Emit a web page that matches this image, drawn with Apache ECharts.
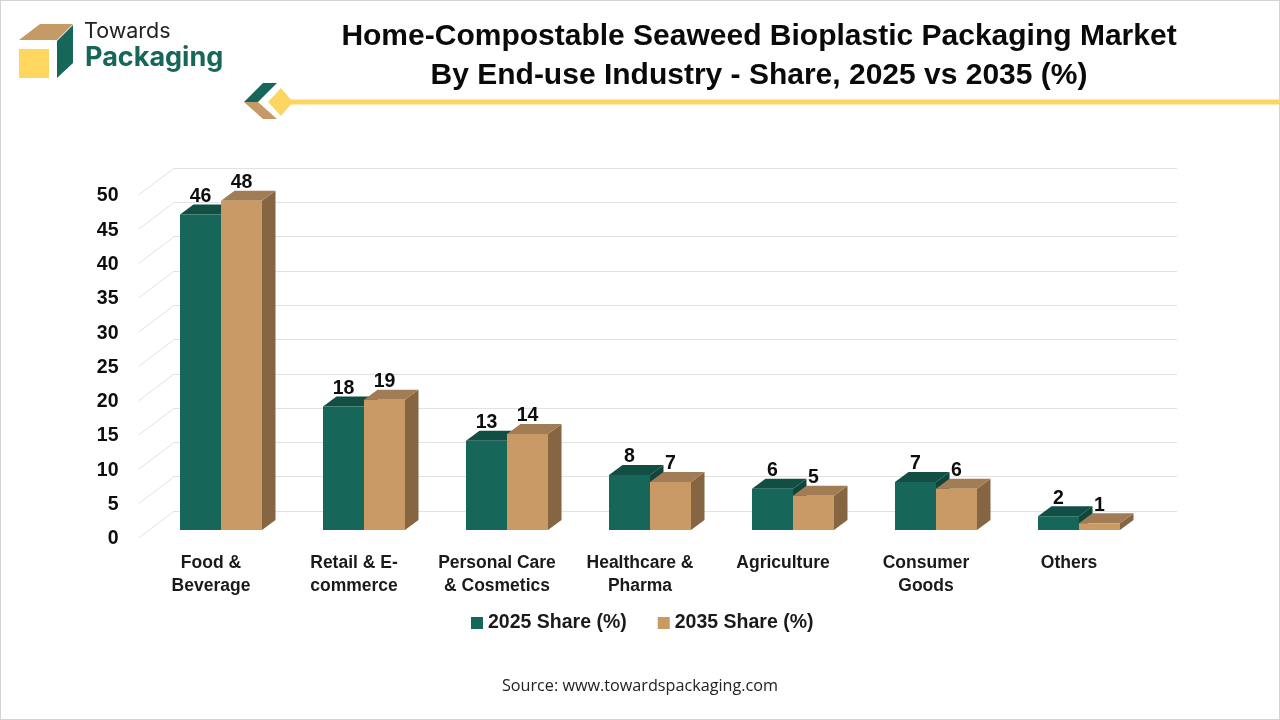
<!DOCTYPE html>
<html><head><meta charset="utf-8">
<style>html,body{margin:0;padding:0;background:#fff}#c{width:1280px;height:720px}</style>
<script src="https://cdn.jsdelivr.net/npm/echarts@6/dist/echarts.min.js"></script>
</head><body><div id="c"></div>
<script>
const categories = ['Food &\nBeverage','Retail & E-\ncommerce','Personal Care\n& Cosmetics','Healthcare &\nPharma','Agriculture','Consumer\nGoods','Others'];
const share2025 = [46,18,13,8,6,7,2];
const share2035 = [48,19,14,7,5,6,1];
const axisTicks = [0,5,10,15,20,25,30,35,40,45,50];
const FONT = '"Liberation Sans", Arial, sans-serif';
const GREEN = {front:'#16665a', top:'#114e43', side:'#0f463c'};
const TAN = {front:'#c99a66', top:'#a27c54', side:'#866543'};
const DX = 13.5, DY = -10, BAR = 41;

function bar3d(values, pal, dir){
  return function(params, api){
    const i = api.value(0), v = api.value(1);
    const top = api.coord([i, v]), base = api.coord([i, 0]);
    const x0 = dir < 0 ? top[0] - BAR : top[0], x1 = x0 + BAR;
    const poly = (pts, fill) => ({type:'polygon', shape:{points:pts}, style:{fill}});
    return {type:'group', children:[
      poly([[x1,top[1]],[x1+DX,top[1]+DY],[x1+DX,base[1]+DY],[x1,base[1]]], pal.side),
      poly([[x0,top[1]],[x0+DX,top[1]+DY],[x1+DX,top[1]+DY],[x1,top[1]]], pal.top),
      {type:'rect', shape:{x:x0,y:top[1],width:BAR,height:base[1]-top[1]}, style:{fill:pal.front}},
      {type:'text', z2:50, style:{text:String(v), x:(x0+x1)/2, y:top[1]-18, textAlign:'center', textVerticalAlign:'middle', font:'bold 19.5px '+FONT, fill:'#0d0d0d'}}
    ]};
  };
}
const chart = echarts.init(document.getElementById('c'), null, {renderer:'canvas', width:1280, height:720});
chart.setOption({
  animation:false,
  backgroundColor:'#fff',
  title:{text:'Home-Compostable Seaweed Bioplastic Packaging Market\nBy End-use Industry - Share, 2025 vs 2035 (%)',
    left:754, top:12, textAlign:'center',
    textStyle:{fontFamily:FONT, fontWeight:'bold', fontSize:30, lineHeight:39, color:'#0a0a0a'}},
  legend:{left:466, top:608, itemWidth:12, itemHeight:12, itemGap:31, icon:'rect',
    data:['2025 Share (%)','2035 Share (%)'],
    textStyle:{fontFamily:FONT, fontWeight:'bold', fontSize:19.5, color:'#1a1a1a'}, itemStyle:{borderWidth:0}},
  grid:[
    {left:149.5, width:1001, top:187, height:343},
    {left:173, width:1004, top:168, height:343},
    {left:139.5, width:1001, top:196, height:343}
  ],
  xAxis:[
    {gridIndex:0, type:'category', data:categories, show:false},
    {gridIndex:1, type:'value', show:false, min:0, max:1},
    {gridIndex:2, type:'category', data:categories, axisLine:{show:false}, axisTick:{show:false}, splitLine:{show:false},
      axisLabel:{margin:13, interval:0, fontFamily:FONT, fontWeight:'bold', fontSize:17.5, lineHeight:23, color:'#1a1a1a', verticalAlign:'top'}}
  ],
  yAxis:[
    {gridIndex:0, type:'value', min:0, max:50, interval:5, show:false},
    {gridIndex:1, type:'value', min:0, max:50, interval:5, axisLine:{show:false}, axisTick:{show:false}, axisLabel:{show:false},
      splitLine:{show:true, lineStyle:{color:'#e2e2e2', width:1}}},
    {gridIndex:2, type:'value', min:0, max:50, interval:5, splitLine:{show:false}, axisLine:{show:false}, axisTick:{show:false},
      axisLabel:{margin:21, fontFamily:FONT, fontWeight:'bold', fontSize:19.5, color:'#0d0d0d', formatter:v=>String(v)}}
  ],
  series:[
    {name:'wall', type:'custom', xAxisIndex:2, yAxisIndex:2, z:1, silent:true,
      data:axisTicks.map(t=>[0,t]),
      renderItem:function(params, api){
        const x = params.coordSys.x - 1, y = api.coord([0, api.value(1)])[1] - 1;
        return {type:'line', shape:{x1:x,y1:y,x2:x+34.5,y2:y-26}, style:{stroke:'#e2e2e2', lineWidth:1}};
      }},
    {name:'2025 Share (%)', type:'custom', xAxisIndex:0, yAxisIndex:0, z:3, itemStyle:{color:GREEN.front},
      data:share2025.map((v,i)=>[i,v]), renderItem:bar3d(share2025, GREEN, -1)},
    {name:'2035 Share (%)', type:'custom', xAxisIndex:0, yAxisIndex:0, z:4, itemStyle:{color:TAN.front},
      data:share2035.map((v,i)=>[i,v]), renderItem:bar3d(share2035, TAN, 1)}
  ],
  graphic:[
    {type:'rect', silent:true, shape:{x:0,y:0,width:1280,height:720}, style:{fill:'none', stroke:'#d4d4d4', lineWidth:2}},
    {type:'polygon', shape:{points:[[19,40],[40,24],[73,24],[57,40]]}, style:{fill:'#c69a66'}},
    {type:'polygon', shape:{points:[[57,41],[73,25],[73,63],[57,78]]}, style:{fill:'#16665a'}},
    {type:'rect', shape:{x:19,y:49,width:30,height:29}, style:{fill:'#ffd75e'}},
    {type:'text', style:{text:'Towards', x:84, y:32, textVerticalAlign:'middle', font:'400 21.5px Inter, sans-serif', fill:'#222'}},
    {type:'text', style:{text:'Packaging', x:85, y:58, textVerticalAlign:'middle', font:'700 27px Inter, sans-serif', fill:'#16665a'}},
    {type:'rect', shape:{x:285,y:99.5,width:995,height:5}, style:{fill:'#fbd663'}},
    {type:'polygon', shape:{points:[[244,102],[263,83],[277,83],[258,102]]}, style:{fill:'#16665a'}},
    {type:'polygon', shape:{points:[[244,102],[258,102],[277,119],[263,119]]}, style:{fill:'#c69a66'}},
    {type:'polygon', shape:{points:[[268,102],[281,88],[293,102],[281,116]]}, style:{fill:'#fbd663'}},
    {type:'text', style:{text:'Source: www.towardspackaging.com', x:640, y:686, textAlign:'center', textVerticalAlign:'middle', font:'400 16.2px "Open Sans", sans-serif', fill:'#222'}}
  ]
});
</script></body></html>
